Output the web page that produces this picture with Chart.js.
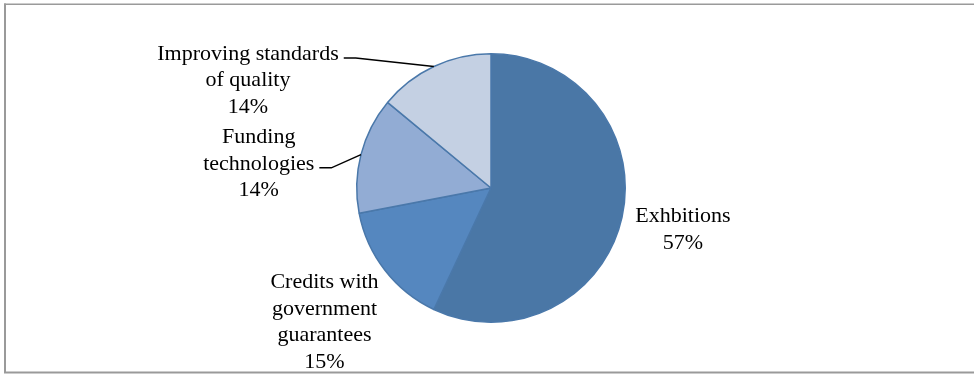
<!DOCTYPE html>
<html>
<head>
<meta charset="utf-8">
<script src="https://cdn.jsdelivr.net/npm/chart.js@4.4.0/dist/chart.umd.min.js"></script>
<style>
  html, body { margin: 0; padding: 0; background: #fff; }
  #wrap { width: 974px; height: 374px; position: relative; }
</style>
</head>
<body>
<div id="wrap"><canvas id="grafico"></canvas></div>
<script>
// Datos del gráfico
const categorias = ['Exhbitions', 'Credits with government guarantees', 'Funding technologies', 'Improving standards of quality'];
const lineasEtiqueta = [
    ['Exhbitions'],
    ['Credits with', 'government', 'guarantees'],
    ['Funding', 'technologies'],
    ['Improving standards', 'of quality']
];
const porcentajes = [57, 15, 14, 14];
const colores = ['#4a77a6', '#5587bf', '#92acd4', '#c4d0e3'];

// Posición de cada etiqueta respecto al centro, en radios
const posEtiqueta = [
    { dx: 1.43, dy: 0.31 },
    { dx: -1.24, dy: 1.0 },
    { dx: -1.73, dy: -0.18 },
    { dx: -1.81, dy: -0.80 }
];
// Línea de la etiqueta desde la que sale la guía (null = sin guía)
const lineaGuia = [null, null, 1, 0];

const fuente = '22px "Liberation Serif", "Times New Roman", serif';
const altoLinea = 26.5;

// Marco gris (arriba, izquierda y abajo; el borde derecho queda fuera)
const marco = {
    id: 'marco',
    beforeDraw(chart) {
        const ctx = chart.ctx;
        ctx.save();
        ctx.fillStyle = '#ffffff';
        ctx.fillRect(0, 0, chart.width, chart.height);
        ctx.fillStyle = '#9a9a9a';
        ctx.fillRect(4, 3.5, chart.width - 4, 1.5);
        ctx.fillRect(4, 3.5, 2, chart.height - 5);
        ctx.fillRect(4, chart.height - 2.5, chart.width - 4, 2);
        ctx.restore();
    }
};

// Etiquetas de datos con líneas guía
const etiquetas = {
    id: 'etiquetas',
    afterDatasetsDraw(chart) {
        const ctx = chart.ctx;
        const meta = chart.getDatasetMeta(0);
        ctx.save();
        ctx.font = fuente;
        ctx.fillStyle = '#000';
        ctx.textAlign = 'center';
        ctx.textBaseline = 'middle';
        meta.data.forEach(function(arco, i) {
            const r = arco.outerRadius;
            const cx = arco.x + posEtiqueta[i].dx * r;
            const cy = arco.y + posEtiqueta[i].dy * r;
            const lineas = lineasEtiqueta[i].concat([porcentajes[i] + '%']);
            const y0 = cy - (lineas.length - 1) * altoLinea / 2;
            lineas.forEach(function(t, j) {
                ctx.fillText(t, cx, y0 + j * altoLinea);
            });
            if (lineaGuia[i] !== null) {
                const j = lineaGuia[i];
                const ancho = ctx.measureText(lineas[j]).width;
                const sx = cx + ancho / 2 + 5;
                const sy = y0 + j * altoLinea + 4;
                const medio = (arco.startAngle + arco.endAngle) / 2;
                const ex = arco.x + Math.cos(medio) * r;
                const ey = arco.y + Math.sin(medio) * r;
                ctx.beginPath();
                ctx.strokeStyle = '#000';
                ctx.lineWidth = 1.5;
                ctx.moveTo(sx, sy);
                ctx.lineTo(sx + 12, sy);
                ctx.lineTo(ex, ey);
                ctx.stroke();
            }
        });
        ctx.restore();
    }
};

new Chart(document.getElementById('grafico'), {
    type: 'pie',
    data: {
        labels: categorias,
        datasets: [{
            data: porcentajes,
            backgroundColor: colores,
            borderColor: '#4a78aa',
            borderWidth: 1.5
        }]
    },
    options: {
        responsive: true,
        maintainAspectRatio: false,
        animation: false,
        layout: { padding: { top: 53, bottom: 51, left: 8, right: 0 } },
        plugins: {
            legend: { display: false },
            tooltip: { enabled: false }
        }
    },
    plugins: [marco, etiquetas]
});
</script>
</body>
</html>
